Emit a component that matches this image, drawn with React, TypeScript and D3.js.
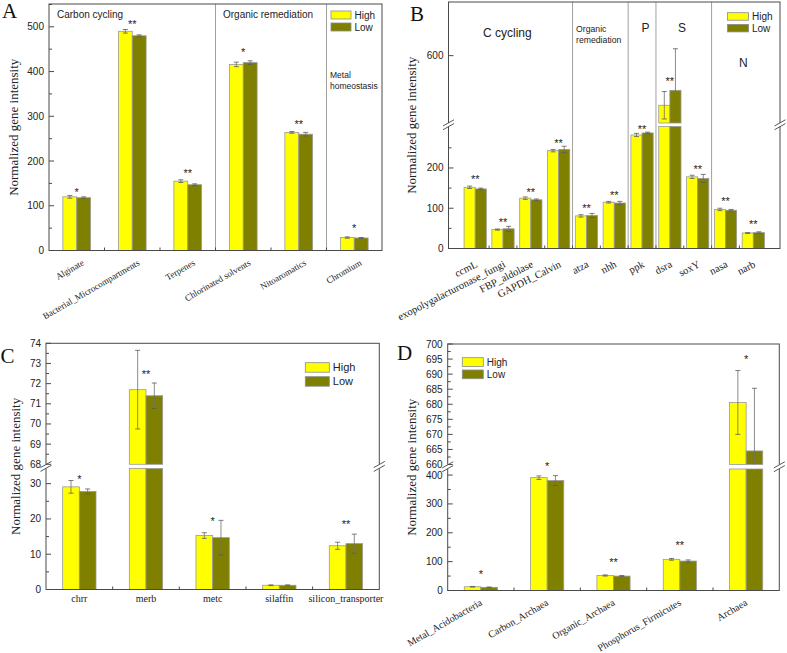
import React from 'react';
import * as d3 from 'd3';

const HIGH_COLOR = '#ffff00';
const LOW_COLOR = '#808000';
const SANS = '"Liberation Sans", Arial, sans-serif';
const SERIF = '"Liberation Serif", "Times New Roman", serif';

// ---- Panel A
const catsA = ['Alginate', 'Bacterial_Microcompartments', 'Terpenes', 'Chlorinated solvents', 'Nitoaromatics', 'Chromium'];
const highA = [120, 490, 155, 416, 264, 29];
const lowA = [118, 480, 147, 420, 260, 28];
const highErrA = [3, 4, 3, 5, 2, 1.5];
const lowErrA = [2, 2, 2, 4, 4, 1];
const sigA = ['*', '**', '**', '*', '**', '*'];
const sigAtA = [135, 510, 178, 448, 288, 54];
const ticksA = [0, 100, 200, 300, 400, 500];
const minorA = [50, 150, 250, 350, 450, 550];

// ---- Panel B
const catsB = ['ccmL', 'exopolygalacturonase_fungi', 'FBP_aldolase', 'GAPDH_Calvin', 'atza', 'nhh', 'ppk', 'dsra', 'soxY', 'nasa', 'narb'];
const highB = [152, 47, 125, 243, 81, 115, 282, 477, 178, 97, 38.5];
const lowB = [148, 49, 121, 246, 82, 113, 287, 514, 174, 95, 39.5];
const highErrB = [3, 1.5, 3, 3, 3, 2, 4, 34, 4, 3, 1];
const lowErrB = [2, 6, 2, 8, 5, 4, 2, 103, 10, 2, 2];
const sigB = ['**', '**', '**', '**', '**', '**', '**', '**', '**', '**', '**'];
const sigAtB = [178, 70, 145, 267, 105, 138, 303, 542, 202, 124, 66];
const ticksBLow = [0, 100, 200];
const minorBLow = [50, 150, 250];
const ticksBHigh = [600];

// ---- Panel C
const catsC = ['chrr', 'merb', 'metc', 'silaffin', 'silicon_transporter'];
const highC = [29.1, 71.7, 15.3, 1.2, 12.4];
const lowC = [27.8, 71.4, 14.7, 1.2, 13.0];
const highErrC = [1.8, 1.95, 0.8, 0.1, 1.0];
const lowErrC = [0.7, 0.63, 4.9, 0.1, 2.7];
const sigC = ['*', '**', '*', '', '**'];
const sigAtC = [31.9, 72.6, 20.1, 0, 19.2];
const ticksCLow = [0, 10, 20, 30];
const minorCLow = [5, 15, 25];
const ticksCHigh = [68, 69, 70, 71, 72, 73, 74];
const minorCHigh = [68.5, 69.5, 70.5, 71.5, 72.5, 73.5];

// ---- Panel D
const catsD = ['Metal_Acidobacteria', 'Carbon_Archaea', 'Organic_Archaea', 'Phosphorus_Firmicutes', 'Archaea'];
const highD = [13, 391, 52, 108, 680.6];
const lowD = [11, 381, 50, 102, 664.5];
const highErrD = [1, 6, 2, 3, 10.6];
const lowErrD = [1, 17, 2, 4, 20.8];
const sigD = ['*', '*', '**', '**', '*'];
const sigAtD = [64, 438, 107, 166, 695.6];
const ticksDLow = [0, 100, 200, 300, 400];
const minorDLow = [50, 150, 250, 350];
const ticksDHigh = [660, 665, 670, 675, 680, 685, 690, 695, 700];
const minorDHigh = [662.5, 667.5, 672.5, 677.5, 682.5, 687.5, 692.5, 697.5];

const legendNames = ['High', 'Low'];

const panels = [
  {
    letter: 'A', letterX: 2, letterY: 17.5,
    cats: catsA, high: highA, low: lowA, highErr: highErrA, lowErr: lowErrA, sig: sigA, sigAt: sigAtA,
    left: 49, right: 382, top: 4, bottom: 250.5, outer: 0, fill: 0.5,
    segs: [{ domain: [0, 551], range: [250.5, 4], ticks: ticksA, minor: minorA }],
    seps: [3, 5],
    legend: { x: 331, y: 11, w: 20, h: 8, gap: 12, fs: 10 },
    notes: [
      { text: 'Carbon cycling', x: 57, y: 18, fs: 10 },
      { text: 'Organic remediation', x: 223, y: 18, fs: 10 },
      { text: 'Metal', x: 330, y: 78, fs: 8.5 },
      { text: 'homeostasis', x: 330, y: 89, fs: 8.5 },
    ],
    yTitleX: 17.5, xlab: { rot: -30, dx: 8, dy: 14, fs: 9 },
  },
  {
    letter: 'B', letterX: 410, letterY: 20.5,
    cats: catsB, high: highB, low: lowB, highErr: highErrB, lowErr: lowErrB, sig: sigB, sigAt: sigAtB,
    left: 448.5, right: 780, top: 2, bottom: 248.5, outer: 0.46, fill: 0.8,
    segs: [
      { domain: [0, 303], range: [248.5, 126.5], ticks: ticksBLow, minor: minorBLow },
      { domain: [433, 733], range: [123, 2], ticks: ticksBHigh, minor: [] },
    ],
    seps: [4, 6, 7, 9],
    legend: { x: 727.5, y: 12.7, w: 21, h: 7.5, gap: 11.7, fs: 10 },
    notes: [
      { text: 'C cycling', x: 483, y: 37, fs: 12 },
      { text: 'Organic', x: 576, y: 31.5, fs: 8.7 },
      { text: 'remediation', x: 576, y: 42.5, fs: 8.7 },
      { text: 'P', x: 641.5, y: 32, fs: 12 },
      { text: 'S', x: 678, y: 32, fs: 12 },
      { text: 'N', x: 739, y: 67, fs: 12 },
    ],
    yTitleX: 416, xlab: { rot: -27, dx: 3, dy: 18, fs: 10.5 },
  },
  {
    letter: 'C', letterX: 0.5, letterY: 363.3,
    cats: catsC, high: highC, low: lowC, highErr: highErrC, lowErr: lowErrC, sig: sigC, sigAt: sigAtC,
    left: 46, right: 379.3, top: 343.3, bottom: 589.5, outer: 0, fill: 0.5,
    segs: [
      { domain: [0, 34.3], range: [589.5, 468.5], ticks: ticksCLow, minor: minorCLow },
      { domain: [68, 74], range: [464.3, 343.3], ticks: ticksCHigh, minor: minorCHigh },
    ],
    seps: [],
    legend: { x: 305.3, y: 362.7, w: 24, h: 9.5, gap: 14, fs: 11 },
    notes: [],
    yTitleX: 20, xlab: { rot: 0, dx: 0, dy: 12, fs: 10 },
  },
  {
    letter: 'D', letterX: 397, letterY: 359.5,
    cats: catsD, high: highD, low: lowD, highErr: highErrD, lowErr: lowErrD, sig: sigD, sigAt: sigAtD,
    left: 447.7, right: 779.3, top: 344, bottom: 590.5, outer: 0, fill: 0.5,
    segs: [
      { domain: [0, 421], range: [590.5, 469], ticks: ticksDLow, minor: minorDLow },
      { domain: [660, 700], range: [464.5, 344], ticks: ticksDHigh, minor: minorDHigh },
    ],
    seps: [],
    legend: { x: 462.3, y: 357.7, w: 21, h: 8.7, gap: 12.3, fs: 10 },
    notes: [],
    yTitleX: 416, xlab: { rot: -30, dx: 2, dy: 14, fs: 10 },
  },
];

const Panel = ({ p }: { p: any }) => {
  const x = d3.scaleBand<string>().domain(p.cats).range([p.left, p.right]).paddingInner(0).paddingOuter(p.outer);
  const scales = p.segs.map((s: any) => d3.scaleLinear().domain(s.domain).range(s.range));
  const bw = (x.bandwidth() * p.fill) / 2;
  const yAny = (v: number) => {
    for (let k = 0; k < p.segs.length; k++) {
      const [d0, d1] = p.segs[k].domain;
      if (v >= d0 && v <= d1) return scales[k](v);
    }
    return scales[0](v);
  };
  const series = [
    { vals: p.high, errs: p.highErr, color: HIGH_COLOR, off: -bw },
    { vals: p.low, errs: p.lowErr, color: LOW_COLOR, off: 0 },
  ];
  const cx = (c: string) => (x(c) as number) + x.bandwidth() / 2;

  const bars: any[] = [];
  const errs: any[] = [];
  p.cats.forEach((c: string, i: number) => {
    series.forEach((s, si) => {
      const v = s.vals[i];
      const bx = cx(c) + s.off;
      p.segs.forEach((seg: any, k: number) => {
        const [d0, d1] = seg.domain;
        const sc = scales[k];
        if (v > d0) {
          const top = Math.min(v, d1);
          bars.push(
            <rect key={`b${i}-${si}-${k}`} x={bx} y={sc(top)} width={bw} height={sc(d0) - sc(top)}
              fill={s.color} stroke="#9a9a9a" strokeWidth={0.8} />
          );
        }
        const lo = v - s.errs[i];
        const hi = v + s.errs[i];
        const a = Math.max(lo, d0);
        const b = Math.min(hi, d1);
        const ex = bx + bw / 2;
        if (a < b) {
          errs.push(<line key={`e${i}-${si}-${k}`} x1={ex} x2={ex} y1={sc(a)} y2={sc(b)} stroke="#6f6f6f" strokeWidth={0.8} />);
          if (hi >= d0 && hi <= d1)
            errs.push(<line key={`eh${i}-${si}-${k}`} x1={ex - 2.5} x2={ex + 2.5} y1={sc(hi)} y2={sc(hi)} stroke="#5a5a5a" strokeWidth={0.8} />);
          if (lo >= d0 && lo <= d1)
            errs.push(<line key={`el${i}-${si}-${k}`} x1={ex - 2.5} x2={ex + 2.5} y1={sc(lo)} y2={sc(lo)} stroke="#5a5a5a" strokeWidth={0.8} />);
        }
      });
    });
  });

  const breaks = p.segs.slice(1).map((seg: any, k: number) => {
    const gTop = seg.range[0];
    const gBot = p.segs[k].range[1];
    const mid = (gTop + gBot) / 2;
    return (
      <g key={`br${k}`}>
        {[p.left, p.right].map((ax: number, j: number) => (
          <g key={j}>
            <rect x={ax - 1.5} y={gTop} width={3} height={gBot - gTop} fill="#fff" />
            <line x1={ax - 5.5} x2={ax + 5.5} y1={mid + 1.2} y2={mid - 5} stroke="#444" strokeWidth={0.9} />
            <line x1={ax - 5.5} x2={ax + 5.5} y1={mid + 5} y2={mid - 1.2} stroke="#444" strokeWidth={0.9} />
          </g>
        ))}
      </g>
    );
  });

  const yMid = (p.top + p.bottom) / 2;

  return (
    <g>
      {p.seps.map((si: number) => (
        <line key={`s${si}`} x1={x(p.cats[si])} x2={x(p.cats[si])} y1={p.top} y2={p.bottom} stroke="#a0a0a0" strokeWidth={1} />
      ))}
      {bars}
      {errs}
      <rect x={p.left} y={p.top} width={p.right - p.left} height={p.bottom - p.top} fill="none" stroke="#4a4a4a" strokeWidth={1} />
      {breaks}
      {p.segs.map((seg: any, k: number) => (
        <g key={`t${k}`}>
          {seg.ticks.map((t: number) => (
            <g key={t}>
              <line x1={p.left} x2={p.left + 5} y1={scales[k](t)} y2={scales[k](t)} stroke="#4a4a4a" />
              <text x={p.left - 5} y={scales[k](t)} dy="0.35em" textAnchor="end" fontFamily={SANS} fontSize={10} fill="#222">{t}</text>
            </g>
          ))}
          {seg.minor.map((t: number) => (
            <line key={`m${t}`} x1={p.left} x2={p.left + 3} y1={scales[k](t)} y2={scales[k](t)} stroke="#4a4a4a" />
          ))}
        </g>
      ))}
      {p.cats.slice(1).map((c: string) => (
        <line key={`xt${c}`} x1={x(c)} x2={x(c)} y1={p.bottom} y2={p.bottom - 3} stroke="#4a4a4a" />
      ))}
      {p.cats.map((c: string, i: number) =>
        p.sig[i] ? (
          <text key={`sg${i}`} x={cx(c)} y={yAny(p.sigAt[i]) + 6} textAnchor="middle" fontFamily={SANS} fontSize={11} fill="#222">{p.sig[i]}</text>
        ) : null
      )}
      {p.cats.map((c: string) =>
        p.xlab.rot === 0 ? (
          <text key={`xl${c}`} x={cx(c)} y={p.bottom + p.xlab.dy} textAnchor="middle" fontFamily={SERIF} fontSize={p.xlab.fs} fill="#222">{c}</text>
        ) : (
          <text key={`xl${c}`} transform={`translate(${cx(c) + p.xlab.dx},${p.bottom + p.xlab.dy}) rotate(${p.xlab.rot})`}
            textAnchor="end" fontFamily={SERIF} fontSize={p.xlab.fs} fill="#222">{c}</text>
        )
      )}
      {legendNames.map((name, j) => (
        <g key={name}>
          <rect x={p.legend.x} y={p.legend.y + j * p.legend.gap} width={p.legend.w} height={p.legend.h}
            fill={j === 0 ? HIGH_COLOR : LOW_COLOR} stroke="#8a8a8a" strokeWidth={0.8} />
          <text x={p.legend.x + p.legend.w + 3.5} y={p.legend.y + j * p.legend.gap + p.legend.h / 2} dy="0.36em"
            fontFamily={SANS} fontSize={p.legend.fs} fill="#222">{name}</text>
        </g>
      ))}
      {p.notes.map((n: any) => (
        <text key={n.text} x={n.x} y={n.y} fontFamily={SANS} fontSize={n.fs} fill="#222">{n.text}</text>
      ))}
      <text transform={`translate(${p.yTitleX},${yMid}) rotate(-90)`} textAnchor="middle" fontFamily={SERIF} fontSize={13} fill="#222">
        Normalized gene intensity
      </text>
      <text x={p.letterX} y={p.letterY} fontFamily={SERIF} fontSize={21} fill="#111">{p.letter}</text>
    </g>
  );
};

const App = () => (
  <svg width={787} height={653} style={{ position: 'absolute', left: 0, top: 0, background: '#fff' }}>
    {panels.map((p) => (
      <Panel key={p.letter} p={p} />
    ))}
  </svg>
);

export default App;
